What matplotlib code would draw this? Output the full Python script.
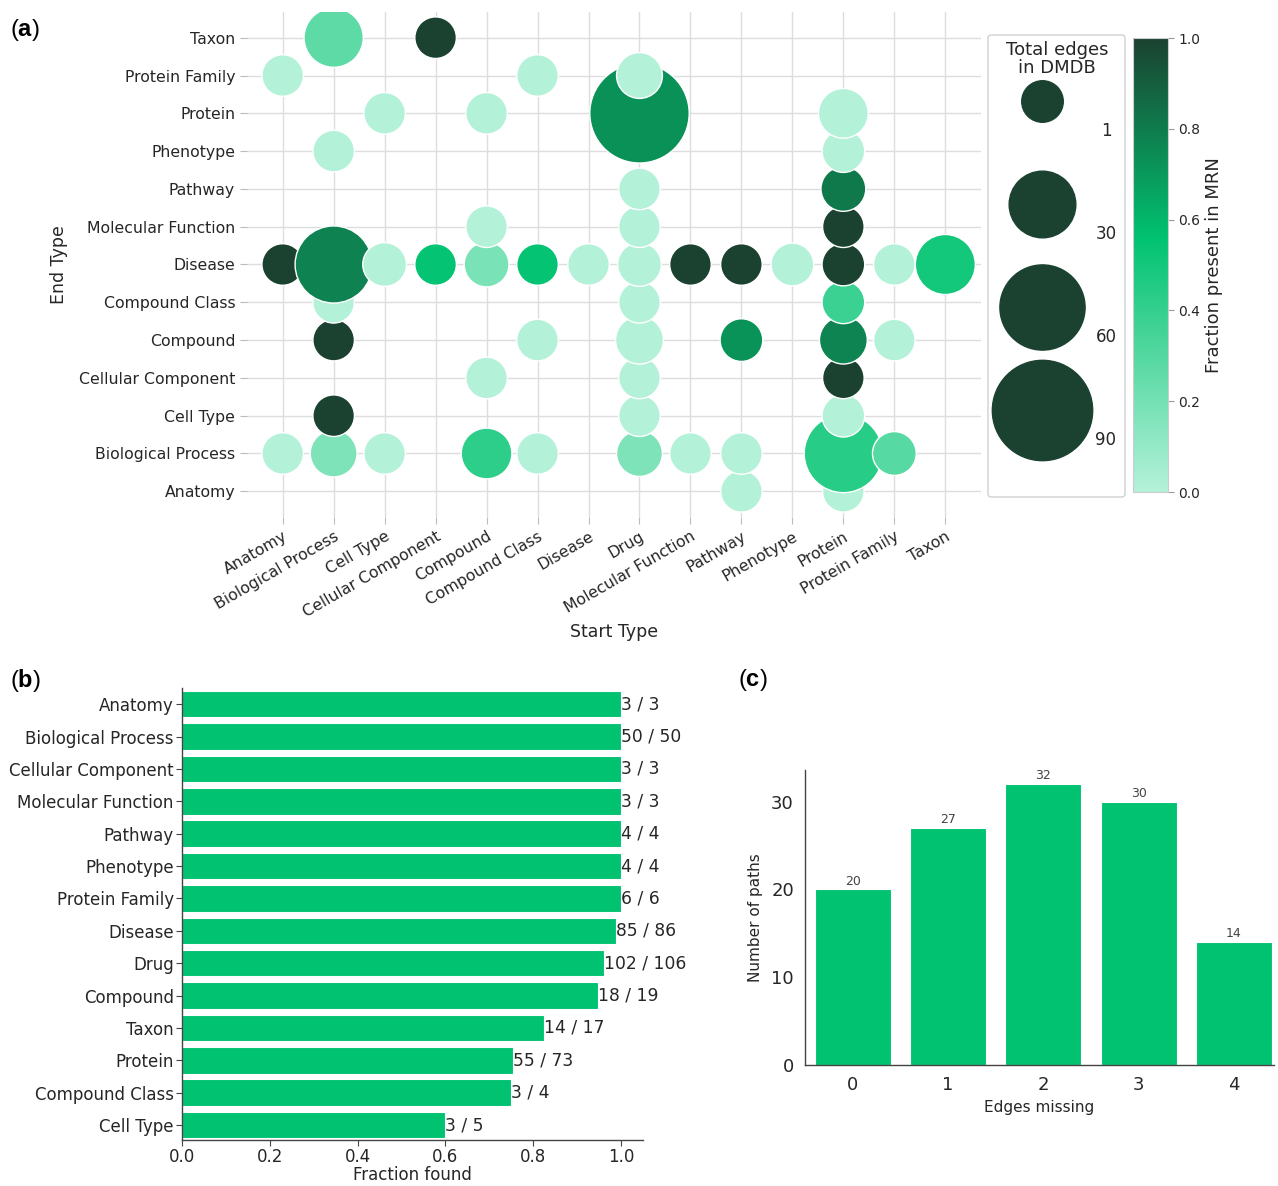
import matplotlib

matplotlib.use("Agg")
import matplotlib.pyplot as plt
import numpy as np
from matplotlib.colors import LinearSegmentedColormap, Normalize
from matplotlib.cm import ScalarMappable
from matplotlib.patches import FancyBboxPatch

plt.rcParams["font.family"] = ["DejaVu Sans"]
plt.rcParams["mathtext.fontset"] = "custom"
plt.rcParams["mathtext.bf"] = "Liberation Sans:bold"

TEXT = "#262626"
GREEN = "#00c270"

# ---------------- panel (a) data ----------------
start_types = ["Anatomy", "Biological Process", "Cell Type", "Cellular Component",
               "Compound", "Compound Class", "Disease", "Drug", "Molecular Function",
               "Pathway", "Phenotype", "Protein", "Protein Family", "Taxon"]
end_types = ["Anatomy", "Biological Process", "Cell Type", "Cellular Component",
             "Compound", "Compound Class", "Disease", "Molecular Function",
             "Pathway", "Phenotype", "Protein", "Protein Family", "Taxon"]

# one entry per (end type, start type) pair, sorted by end type
edge_end = (["Anatomy"] * 2
            + ["Biological Process"] * 10
            + ["Cell Type"] * 3
            + ["Cellular Component"] * 3
            + ["Compound"] * 6
            + ["Compound Class"] * 3
            + ["Disease"] * 14
            + ["Molecular Function"] * 3
            + ["Pathway"] * 2
            + ["Phenotype"] * 2
            + ["Protein"] * 4
            + ["Protein Family"] * 3
            + ["Taxon"] * 2)
edge_start = (["Pathway", "Protein"]
              + ["Anatomy", "Biological Process", "Cell Type", "Compound", "Compound Class",
                 "Drug", "Molecular Function", "Pathway", "Protein", "Protein Family"]
              + ["Biological Process", "Drug", "Protein"]
              + ["Compound", "Drug", "Protein"]
              + ["Biological Process", "Compound Class", "Drug", "Pathway", "Protein", "Protein Family"]
              + ["Biological Process", "Drug", "Protein"]
              + ["Anatomy", "Biological Process", "Cell Type", "Cellular Component", "Compound",
                 "Compound Class", "Disease", "Drug", "Molecular Function", "Pathway",
                 "Phenotype", "Protein", "Protein Family", "Taxon"]
              + ["Compound", "Drug", "Protein"]
              + ["Drug", "Protein"]
              + ["Biological Process", "Protein"]
              + ["Cell Type", "Compound", "Drug", "Protein"]
              + ["Anatomy", "Compound Class", "Drug"]
              + ["Biological Process", "Cellular Component"])
edge_total = ([1, 1]
              + [1, 6, 1, 10, 1, 5, 1, 1, 48, 3]
              + [1, 1, 2]
              + [1, 1, 1]
              + [1, 1, 7, 2, 7, 1]
              + [1, 1, 2]
              + [1, 46, 3, 1, 4, 1, 1, 3, 1, 1, 2, 2, 1, 21]
              + [1, 1, 1]
              + [1, 4]
              + [1, 2]
              + [1, 1, 88, 9]
              + [1, 1, 5]
              + [20, 1])
edge_fraction = ([0.0, 0.0]
                 + [0.0, 0.17, 0.0, 0.42, 0.0, 0.17, 0.0, 0.0, 0.44, 0.29]
                 + [1.0, 0.0, 0.0]
                 + [0.0, 0.0, 1.0]
                 + [1.0, 0.0, 0.0, 0.72, 0.77, 0.0]
                 + [0.0, 0.0, 0.38]
                 + [1.0, 0.78, 0.0, 0.55, 0.18, 0.55, 0.0, 0.0, 1.0, 1.0, 0.0, 1.0, 0.0, 0.5]
                 + [0.0, 0.0, 1.0]
                 + [0.0, 0.81]
                 + [0.0, 0.0]
                 + [0.0, 0.0, 0.73, 0.0]
                 + [0.0, 0.0, 0.0]
                 + [0.27, 1.0])
legend_totals = [1, 30, 60, 90]

# ---------------- panel (b) data ----------------
b_types = ["Anatomy", "Biological Process", "Cellular Component", "Molecular Function",
           "Pathway", "Phenotype", "Protein Family", "Disease", "Drug", "Compound",
           "Taxon", "Protein", "Compound Class", "Cell Type"]
b_found = [3, 50, 3, 3, 4, 4, 6, 85, 102, 18, 14, 55, 3, 3]
b_total = [3, 50, 3, 3, 4, 4, 6, 86, 106, 19, 17, 73, 4, 5]

# ---------------- panel (c) data ----------------
edges_missing = [0, 1, 2, 3, 4]
n_paths = [20, 27, 32, 30, 14]

cmap = LinearSegmentedColormap.from_list(
    "mrn", [(0.0, "#b4f1d9"), (0.56, "#00c270"), (1.0, "#1b4230")])
norm = Normalize(0, 1)


def bubble_size(n):
    s1, s90 = 895.0, 5220.0
    return s1 + (np.asarray(n, dtype=float) - 1) * (s90 - s1) / 89.0


fig = plt.figure(figsize=(12.78, 11.86), dpi=100)
W, H = 1278.0, 1186.0


def px_axes(left, top, right, bottom):
    return fig.add_axes([left / W, 1 - bottom / H, (right - left) / W, (bottom - top) / H])


# ---------------- (a) bubble chart ----------------
ax = px_axes(247, 12, 981, 517)
xs = [start_types.index(s) for s in edge_start]
ys = [end_types.index(e) for e in edge_end]
ax.scatter(xs, ys, s=bubble_size(edge_total), c=edge_fraction, cmap=cmap, norm=norm,
           edgecolors="white", linewidths=1.0, zorder=3)
ax.set_xlim(-0.7, len(start_types) - 1 + 0.7)
ax.set_ylim(-0.68, len(end_types) - 1 + 0.68)
ax.set_xticks(range(len(start_types)))
ax.set_xticklabels(start_types, rotation=30, ha="right", rotation_mode="anchor")
ax.set_yticks(range(len(end_types)))
ax.set_yticklabels(end_types)
ax.tick_params(colors="#bbbbbb", labelcolor=TEXT, labelsize=11.3, length=5, width=0.8)
ax.grid(True, color="#dddddd", lw=1.0, zorder=0)
ax.set_axisbelow(True)
for sp in ax.spines.values():
    sp.set_visible(False)
ax.set_xlabel("Start Type", fontsize=12.5, color=TEXT, labelpad=2)
ax.set_ylabel("End Type", fontsize=12.5, color=TEXT, labelpad=8)

# size legend
lax = px_axes(988, 35, 1125, 497)
lax.set_xlim(988, 1125)
lax.set_ylim(497, 35)
lax.axis("off")
lax.add_patch(FancyBboxPatch((0, 0), 1, 1, boxstyle="round,pad=0,rounding_size=0.025",
                             transform=lax.transAxes, fc="white", ec="#d0d0d0", lw=1.0,
                             mutation_aspect=137 / 462, clip_on=False))
lax.text(1057, 59, "Total edges\nin DMDB", ha="center", va="center", fontsize=13,
         color=TEXT, linespacing=1.05)
for i, v in enumerate(legend_totals):
    yc = 101 + 103 * i
    lax.scatter([1042], [yc], s=bubble_size(v), color="#1b4230", clip_on=False)
    lax.text(1106, yc + 30, str(v), ha="center", va="center", fontsize=12, color=TEXT)

# colorbar
cax = px_axes(1133, 38, 1168, 492)
cb = fig.colorbar(ScalarMappable(norm=norm, cmap=cmap), cax=cax)
cb.set_ticks([0.0, 0.2, 0.4, 0.6, 0.8, 1.0])
cb.outline.set_edgecolor("#cccccc")
cb.outline.set_linewidth(0.8)
cax.tick_params(colors="#999999", labelcolor=TEXT, labelsize=10, length=4, width=0.8)
cb.set_label("Fraction present in MRN", fontsize=13, color=TEXT, labelpad=3)

# ---------------- (b) fraction found ----------------
bx = px_axes(182, 688, 643, 1140)
frac = np.array(b_found) / np.array(b_total)
yb = np.arange(len(b_types))
bx.barh(yb, frac, height=0.82, color=GREEN, edgecolor="white", lw=0.8)
for i in range(len(b_types)):
    bx.text(frac[i], yb[i], f"{b_found[i]} / {b_total[i]}", ha="left", va="center",
            fontsize=12.3, color=TEXT)
bx.set_yticks(yb)
bx.set_yticklabels(b_types)
bx.set_ylim(len(b_types) - 0.54, -0.5)
bx.set_xlim(0, 1.05)
bx.set_xticks(np.arange(0, 1.01, 0.2))
bx.set_xticklabels([f"{t:.1f}" for t in np.arange(0, 1.01, 0.2)])
bx.tick_params(colors="#444444", labelcolor=TEXT, labelsize=12, length=4, width=0.8, pad=2)
for name in ["top", "right"]:
    bx.spines[name].set_visible(False)
for name in ["left", "bottom"]:
    bx.spines[name].set_color("#444444")
    bx.spines[name].set_linewidth(1.0)
bx.set_xlabel("Fraction found", fontsize=12, color=TEXT, labelpad=0)

# ---------------- (c) edges missing ----------------
cx = px_axes(805, 770, 1274, 1065)
cx.bar(edges_missing, n_paths, width=0.8, color=GREEN, edgecolor="white", lw=0.8)
for x, v in zip(edges_missing, n_paths):
    cx.text(x, v + 0.2, str(v), ha="center", va="bottom", fontsize=9, color="#444444")
cx.set_xlim(-0.5, 4.42)
cx.set_ylim(0, max(n_paths) * 1.05)
cx.set_xticks(edges_missing)
cx.set_yticks([0, 10, 20, 30])
cx.tick_params(length=0, labelsize=13, labelcolor=TEXT, pad=8)
for name in ["top", "right"]:
    cx.spines[name].set_visible(False)
for name in ["left", "bottom"]:
    cx.spines[name].set_color("#444444")
    cx.spines[name].set_linewidth(1.0)
cx.set_xlabel("Edges missing", fontsize=11, color=TEXT, labelpad=4)
cx.set_ylabel("Number of paths", fontsize=11, color=TEXT, labelpad=6)

# panel letters
for letter, x, y in [("a", 10, 30), ("b", 10, 680), ("c", 738, 680)]:
    fig.text(x / W, 1 - y / H, "($\\mathbf{" + letter + "}$)", fontsize=17,
             family="Liberation Sans", ha="left", va="center", color="black")

fig.savefig("out.png", dpi=100)
